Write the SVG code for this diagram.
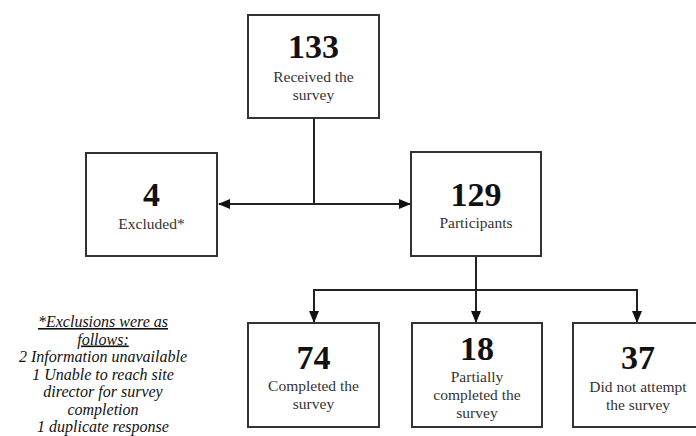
<svg xmlns="http://www.w3.org/2000/svg" width="696" height="436" viewBox="0 0 696 436">
<style>
.box{fill:#fff;stroke:#333;stroke-width:2}
.num{font-family:"Liberation Serif",serif;font-weight:bold;font-size:34px;fill:#111;text-anchor:middle}
.lbl{font-family:"Liberation Serif",serif;font-size:15.5px;fill:#333;text-anchor:middle}
.note{font-family:"Liberation Serif",serif;font-style:italic;font-size:16px;fill:#111;text-anchor:middle}
.ln{stroke:#222;stroke-width:2;fill:none}
</style>
<defs>
<marker id="ah" markerWidth="12" markerHeight="10" refX="11" refY="5" orient="auto" markerUnits="userSpaceOnUse">
<path d="M0,0 L12,5 L0,10 Z" fill="#111"/>
</marker>
</defs>
<rect width="696" height="436" fill="#fff"/>
<g id="connectors">
<line class="ln" x1="314" y1="119" x2="314" y2="204"/>
<line class="ln" x1="314" y1="204" x2="219" y2="204" marker-end="url(#ah)"/>
<line class="ln" x1="314" y1="204" x2="410" y2="204" marker-end="url(#ah)"/>
<line class="ln" x1="476" y1="257" x2="476" y2="290"/>
<line class="ln" x1="313" y1="290" x2="638" y2="290"/>
<line class="ln" x1="314" y1="290" x2="314" y2="322" marker-end="url(#ah)"/>
<line class="ln" x1="476" y1="290" x2="476" y2="322" marker-end="url(#ah)"/>
<line class="ln" x1="637" y1="290" x2="637" y2="322" marker-end="url(#ah)"/>
</g>
<g id="received">
<rect class="box" x="248" y="15" width="131" height="103"/>
<text class="num" x="313.5" y="58">133</text>
<text class="lbl" x="313.5" y="82">Received the</text>
<text class="lbl" x="313.5" y="100">survey</text>
</g>
<g id="excluded">
<rect class="box" x="86" y="153" width="131" height="103"/>
<text class="num" x="151.5" y="206">4</text>
<text class="lbl" x="151.5" y="229">Excluded*</text>
</g>
<g id="participants">
<rect class="box" x="411" y="152" width="130" height="104"/>
<text class="num" x="476" y="206">129</text>
<text class="lbl" x="476" y="228">Participants</text>
</g>
<g id="completed">
<rect class="box" x="248" y="323" width="131" height="104"/>
<text class="num" x="313.5" y="369">74</text>
<text class="lbl" x="313.5" y="391">Completed the</text>
<text class="lbl" x="313.5" y="409">survey</text>
</g>
<g id="partial">
<rect class="box" x="412" y="323" width="130" height="104"/>
<text class="num" x="477" y="360">18</text>
<text class="lbl" x="477" y="382">Partially</text>
<text class="lbl" x="477" y="400">completed the</text>
<text class="lbl" x="477" y="418">survey</text>
</g>
<g id="notattempt">
<rect class="box" x="573" y="323" width="131" height="104"/>
<text class="num" x="638" y="369">37</text>
<text class="lbl" x="638" y="392">Did not attempt</text>
<text class="lbl" x="638" y="410">the survey</text>
</g>
<g id="footnote">
<text class="note" x="103" y="327" text-decoration="underline">*Exclusions were as</text>
<text class="note" x="103" y="344.5" text-decoration="underline">follows:</text>
<text class="note" x="103" y="362">2 Information unavailable</text>
<text class="note" x="103" y="379.5">1 Unable to reach site</text>
<text class="note" x="103" y="397">director for survey</text>
<text class="note" x="103" y="414.5">completion</text>
<text class="note" x="103" y="432">1 duplicate response</text>
</g>
</svg>
